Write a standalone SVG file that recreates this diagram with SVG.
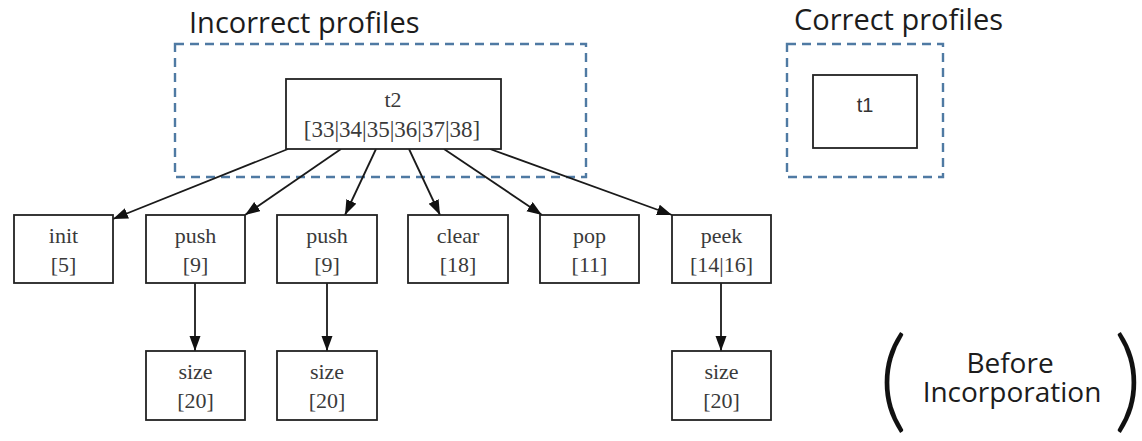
<svg xmlns="http://www.w3.org/2000/svg" width="1142" height="441" viewBox="0 0 1142 441">
<style>
.bg{fill:#ffffff}
.node{fill:#ffffff;stroke:#222222;stroke-width:1.8}
.grp{fill:none;stroke:#4f7aa3;stroke-width:2.4;stroke-dasharray:9 6}
.lbl{font-family:"Liberation Serif","Times New Roman",serif;font-size:22px;fill:#3a3a3a;text-anchor:middle}
.big{font-size:23px}
.sans{font-family:"Liberation Sans",Arial,sans-serif;font-size:20px;fill:#333333;text-anchor:middle}
.head{font-family:"Open Sans","Noto Sans",sans-serif;font-size:29px;fill:#1c1c1c}
.note{font-family:"Open Sans","Noto Sans",sans-serif;font-size:28px;fill:#1c1c1c;text-anchor:middle}
.paren{font-family:"Lato","Open Sans",sans-serif;font-weight:300;font-size:112px;fill:#111111;text-anchor:middle}
.edge{fill:none;stroke:#1a1a1a;stroke-width:1.8;marker-end:url(#arrow)}
</style>
<defs>
<marker id="arrow" markerUnits="userSpaceOnUse" markerWidth="16" markerHeight="12" refX="15" refY="5.5" orient="auto">
<path d="M0,0 L15,5.5 L0,11 Z" fill="#111111"/>
</marker>
</defs>
<rect class="bg" x="0" y="0" width="1142" height="441"/>

<g id="group-incorrect">
<text class="head" x="189" y="33">Incorrect profiles</text>
<rect class="grp" x="175" y="44" width="411" height="133"/>
</g>
<g id="group-correct">
<text class="head" x="794" y="30">Correct profiles</text>
<rect class="grp" x="787" y="44" width="156" height="133"/>
</g>

<g id="connectors">
<line class="edge" x1="288" y1="149" x2="113" y2="219"/>
<line class="edge" x1="341" y1="149" x2="245" y2="215"/>
<line class="edge" x1="376" y1="149" x2="345" y2="215"/>
<line class="edge" x1="409" y1="149" x2="440" y2="215"/>
<line class="edge" x1="444" y1="149" x2="542" y2="215"/>
<line class="edge" x1="490" y1="149" x2="672" y2="215"/>
<line class="edge" x1="195" y1="283" x2="195" y2="351"/>
<line class="edge" x1="327" y1="283" x2="327" y2="351"/>
<line class="edge" x1="721" y1="283" x2="721" y2="351"/>
</g>

<g id="node-t2">
<rect class="node" x="286" y="79" width="215" height="70"/>
<text class="lbl" x="393" y="107">t2</text>
<text class="lbl big" x="392" y="137">[33|34|35|36|37|38]</text>
</g>
<g id="node-t1">
<rect class="node" x="813" y="75" width="104" height="73"/>
<text class="sans" x="865" y="112">t1</text>
</g>

<g id="node-init">
<rect class="node" x="14" y="215" width="99" height="68"/>
<text class="lbl" x="63.5" y="243">init</text>
<text class="lbl" x="63.5" y="272">[5]</text>
</g>
<g id="node-push1">
<rect class="node" x="146" y="215" width="99" height="68"/>
<text class="lbl" x="195.5" y="243">push</text>
<text class="lbl" x="195.5" y="272">[9]</text>
</g>
<g id="node-push2">
<rect class="node" x="277" y="215" width="100" height="68"/>
<text class="lbl" x="327" y="243">push</text>
<text class="lbl" x="327" y="272">[9]</text>
</g>
<g id="node-clear">
<rect class="node" x="408" y="215" width="100" height="68"/>
<text class="lbl" x="458" y="243">clear</text>
<text class="lbl" x="458" y="272">[18]</text>
</g>
<g id="node-pop">
<rect class="node" x="540" y="215" width="99" height="68"/>
<text class="lbl" x="589.5" y="243">pop</text>
<text class="lbl" x="589.5" y="272">[11]</text>
</g>
<g id="node-peek">
<rect class="node" x="672" y="215" width="99" height="68"/>
<text class="lbl" x="721.5" y="243">peek</text>
<text class="lbl" x="721.5" y="272">[14|16]</text>
</g>

<g id="node-size1">
<rect class="node" x="146" y="351" width="99" height="69"/>
<text class="lbl" x="195.5" y="379">size</text>
<text class="lbl" x="195.5" y="408">[20]</text>
</g>
<g id="node-size2">
<rect class="node" x="277" y="351" width="100" height="69"/>
<text class="lbl" x="327" y="379">size</text>
<text class="lbl" x="327" y="408">[20]</text>
</g>
<g id="node-size3">
<rect class="node" x="672" y="351" width="99" height="69"/>
<text class="lbl" x="721.5" y="379">size</text>
<text class="lbl" x="721.5" y="408">[20]</text>
</g>

<g id="note-before">
<text class="paren" x="893" y="418">(</text>
<text class="note" x="1010" y="373">Before</text>
<text class="note" x="1012" y="402">Incorporation</text>
<text class="paren" x="1128" y="418">)</text>
</g>
</svg>
